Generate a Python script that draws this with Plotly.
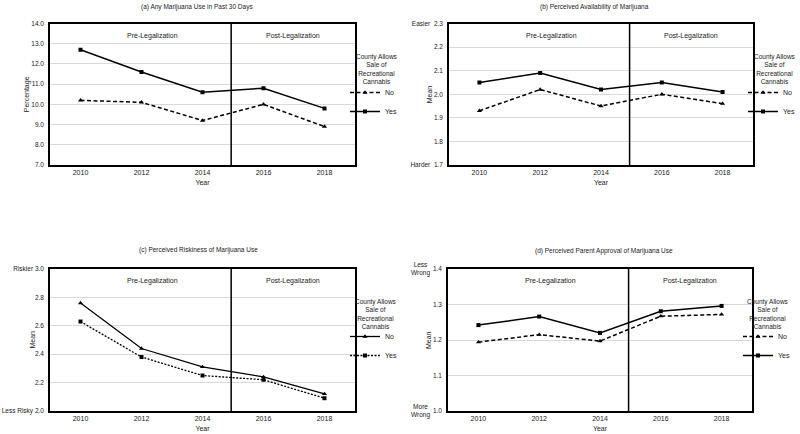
import plotly.graph_objects as go

years = ["2010", "2012", "2014", "2016", "2018"]

use_no = [10.2, 10.1, 9.2, 10.0, 8.9]
use_yes = [12.7, 11.6, 10.6, 10.8, 9.8]

avail_no = [1.93, 2.02, 1.95, 2.00, 1.96]
avail_yes = [2.05, 2.09, 2.02, 2.05, 2.01]

risk_no = [2.76, 2.44, 2.31, 2.24, 2.12]
risk_yes = [2.63, 2.38, 2.25, 2.22, 2.09]

appr_no = [1.194, 1.215, 1.197, 1.267, 1.272]
appr_yes = [1.242, 1.266, 1.220, 1.281, 1.296]

titles = ["(a) Any Marijuana Use in Past 30 Days",
          "(b) Perceived Availability of Marijuana",
          "(c) Perceived Riskiness of Marijuana Use",
          "(d) Perceived Parent Approval of Marijuana Use"]
ytitles = ["Percentage", "Mean", "Mean", "Mean"]
legend_title = "County Allows<br>Sale of<br>Recreational<br>Cannabis"

FONT = "Liberation Sans, Arial, sans-serif"
TXT = "#1a1a1a"
W, H = 800, 434

def px_x(p):
    return p / W

def px_y(p):
    return 1 - p / H

# panel geometry in pixels (left, right, top, bottom)
panels = [(50, 355, 23.5, 165), (449, 753, 23.5, 165),
          (50, 355, 269, 411), (448, 752, 269, 411)]
title_pos = [(196.5, 6.7), (594, 6.7), (198, 250), (603.5, 250.7)]
ytitle_shift = [23, 20, 18.5, 20]
legtitle_pos = [(377, 69.3), (775, 69.3), (376, 314.2), (768, 314.2)]
legend_pos = [(345, 78), (743, 78), (345, 322), (738, 322)]

LONG_DASH = "4px,2.5px"
SHORT_DASH = "2px,1.5px"

fig = go.Figure()

series = [
    (use_no, use_yes, LONG_DASH, "solid", 1.5),
    (avail_no, avail_yes, LONG_DASH, "solid", 1.5),
    (risk_no, risk_yes, "solid", SHORT_DASH, 1.3),
    (appr_no, appr_yes, LONG_DASH, "solid", 1.5),
]

for i, (no, yes, dno, dyes, lw) in enumerate(series):
    k = "" if i == 0 else str(i + 1)
    lg = "legend" + ("" if i == 0 else str(i + 1))
    fig.add_trace(go.Scatter(x=years, y=no, name="No", mode="lines+markers",
                             line=dict(color="black", width=lw, dash=dno),
                             marker=dict(symbol="triangle-up", size=4.5, color="black"),
                             xaxis="x" + k, yaxis="y" + k, legend=lg))
    fig.add_trace(go.Scatter(x=years, y=yes, name="Yes", mode="lines+markers",
                             line=dict(color="black", width=lw, dash=dyes),
                             marker=dict(symbol="square", size=4, color="black"),
                             xaxis="x" + k, yaxis="y" + k, legend=lg))

yticks = [
    ([7, 8, 9, 10, 11, 12, 13, 14], ["7.0", "8.0", "9.0", "10.0", "11.0", "12.0", "13.0", "14.0"], [7, 14]),
    ([1.7, 1.8, 1.9, 2.0, 2.1, 2.2, 2.3], ["Harder\u00a0\u00a01.7", "1.8", "1.9", "2.0", "2.1", "2.2", "Easier\u00a0\u00a02.3"], [1.7, 2.3]),
    ([2.0, 2.2, 2.4, 2.6, 2.8, 3.0], ["Less Risky 2.0", "2.2", "2.4", "2.6", "2.8", "Riskier 3.0"], [2.0, 3.0]),
    ([1.0, 1.1, 1.2, 1.3, 1.4], ["1.0", "1.1", "1.2", "1.3", "1.4"], [1.0, 1.4]),
]

annotations = []
shapes = []
layout = {}
for i, (l, r, t, b) in enumerate(panels):
    k = "" if i == 0 else str(i + 1)
    xa = "xaxis" + k
    ya = "yaxis" + k
    tv, tt, rng = yticks[i]
    layout[xa] = dict(domain=[px_x(l), px_x(r)], anchor="y" + k, type="category",
                      range=[-0.5, 4.5], showgrid=False, showline=True, mirror=True,
                      linecolor="black", linewidth=1.5, ticks="",
                      tickfont=dict(size=7, color=TXT, family=FONT),
                      title=dict(text="Year", font=dict(size=7, color=TXT, family=FONT), standoff=5))
    layout[ya] = dict(domain=[px_y(b), px_y(t)], anchor="x" + k, range=rng,
                      tickvals=tv, ticktext=tt, showgrid=True, gridcolor="#d9d9d9", gridwidth=1,
                      showline=True, mirror=True, linecolor="black", linewidth=1.5, ticks="",
                      zeroline=False, ticklabelstandoff=3,
                      tickfont=dict(size=6.5, color=TXT, family=FONT))
    # y-axis title
    annotations.append(dict(text=ytitles[i], xref="x" + k + " domain", yref="y" + k + " domain",
                            x=0, y=0.5, xshift=-ytitle_shift[i], xanchor="center", yanchor="middle",
                            textangle=-90, showarrow=False,
                            font=dict(size=7, color=TXT, family=FONT)))
    # divider between pre- and post-legalization
    shapes.append(dict(type="line", xref="x" + k, yref="y" + k + " domain",
                       x0=2.47, x1=2.47, y0=0, y1=1, line=dict(color="black", width=1.5)))
    # period labels
    for xpos, txt in [(1.18, "Pre-Legalization"), (3.48, "Post-Legalization")]:
        annotations.append(dict(text=txt, xref="x" + k, yref="y" + k + " domain", x=xpos, y=0.915,
                                xanchor="center", yanchor="middle",
                                showarrow=False, font=dict(size=7, color=TXT, family=FONT)))
    # panel title
    tx, ty = title_pos[i]
    annotations.append(dict(text=titles[i], xref="paper", yref="paper",
                            x=px_x(tx), y=px_y(ty), xanchor="center", yanchor="middle",
                            showarrow=False, font=dict(size=6.5, color=TXT, family=FONT)))
    # legend title
    lx, ly = legtitle_pos[i]
    annotations.append(dict(text=legend_title, xref="paper", yref="paper",
                            x=px_x(lx), y=px_y(ly), yanchor="middle", xanchor="center",
                            showarrow=False, align="center",
                            font=dict(size=6.5, color=TXT, family=FONT)))
    lg = "legend" + ("" if i == 0 else str(i + 1))
    gx, gy = legend_pos[i]
    layout[lg] = dict(x=px_x(gx), y=px_y(gy), xanchor="left", yanchor="top",
                      bgcolor="rgba(0,0,0,0)", font=dict(size=7, color=TXT, family=FONT),
                      tracegroupgap=0, itemwidth=30)

# Less/More Wrong labels for panel (d)
for yv, txt in [(1.4, "Less<br>Wrong"), (1.0, "More<br>Wrong")]:
    annotations.append(dict(text=txt, xref="x4 domain", yref="y4", x=0, y=yv, xshift=-16,
                            xanchor="right", yanchor="middle", showarrow=False, align="center",
                            font=dict(size=6.5, color=TXT, family=FONT)))

fig.update_layout(**layout)
fig.update_layout(width=W, height=H, margin=dict(l=0, r=0, t=0, b=0, autoexpand=False),
                  paper_bgcolor="white", plot_bgcolor="white", showlegend=True,
                  annotations=annotations, shapes=shapes,
                  font=dict(family=FONT, color=TXT))

fig.write_html("out.html", config={"displayModeBar": False},
               post_script="document.body.style.margin='0';document.body.style.overflow='hidden';")
